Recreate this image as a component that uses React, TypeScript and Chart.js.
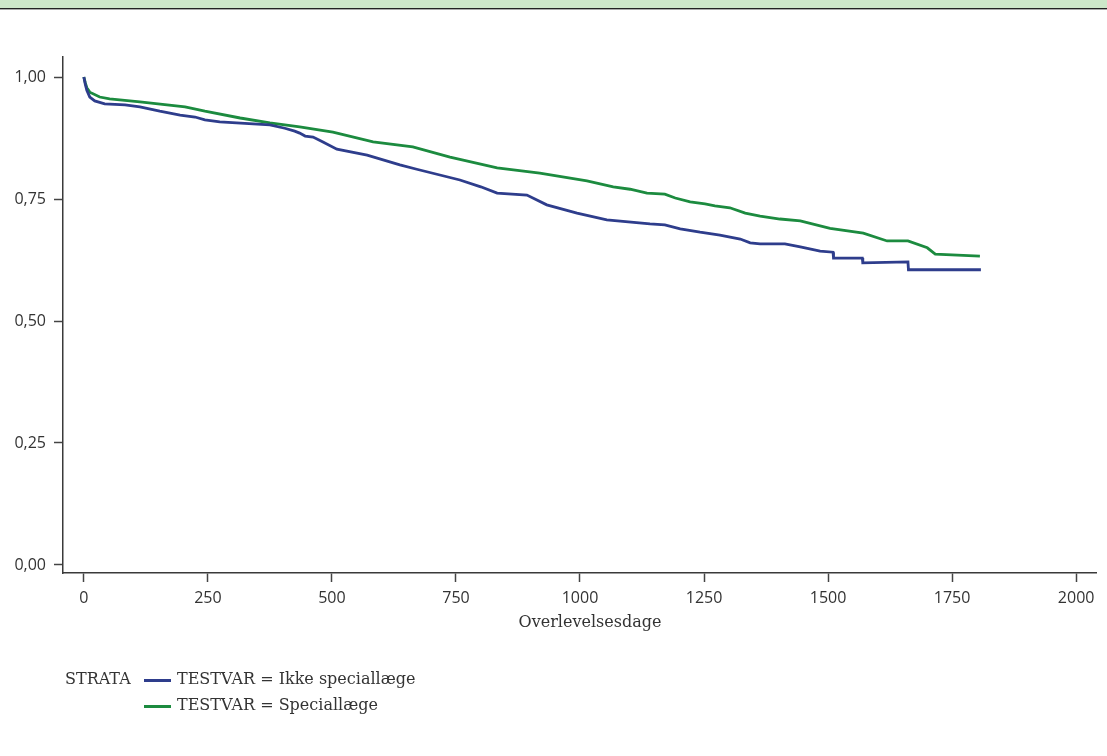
import React, { useEffect, useRef } from "react";
import { Chart, registerables } from "chart.js";

Chart.register(...registerables);

const seriesNames = ["TESTVAR = Ikke speciallæge", "TESTVAR = Speciallæge"];
const seriesColors = ["#2e3d8c", "#1c8b3f"];

const blueDays = [0, 3, 6, 12, 22, 42, 83, 113, 153, 194, 224, 244, 274, 375, 405, 425, 435, 446, 462, 480, 510, 571, 637, 671, 758, 800, 833, 893, 933, 994, 1054, 1141, 1171, 1202, 1242, 1282, 1323, 1343, 1363, 1413, 1444, 1484, 1510, 1511, 1569, 1570, 1661, 1662, 1808];
const blueSurv = [1.0, 0.985, 0.973, 0.959, 0.951, 0.945, 0.943, 0.939, 0.93, 0.922, 0.918, 0.912, 0.908, 0.902, 0.895, 0.889, 0.885, 0.879, 0.877, 0.868, 0.852, 0.84, 0.82, 0.811, 0.789, 0.775, 0.762, 0.758, 0.738, 0.721, 0.707, 0.699, 0.697, 0.689, 0.682, 0.676, 0.668, 0.66, 0.658, 0.658, 0.652, 0.643, 0.641, 0.629, 0.629, 0.619, 0.621, 0.605, 0.605];

const greenDays = [0, 3, 6, 12, 32, 52, 113, 204, 244, 315, 375, 435, 502, 583, 663, 738, 833, 919, 1014, 1067, 1101, 1135, 1171, 1192, 1222, 1252, 1272, 1302, 1333, 1363, 1403, 1444, 1504, 1571, 1619, 1661, 1700, 1716, 1806];
const greenSurv = [1.0, 0.988, 0.978, 0.969, 0.959, 0.955, 0.949, 0.939, 0.93, 0.916, 0.906, 0.898, 0.887, 0.867, 0.857, 0.836, 0.814, 0.803, 0.787, 0.775, 0.77, 0.762, 0.76, 0.752, 0.744, 0.74, 0.736, 0.732, 0.721, 0.715, 0.709, 0.705, 0.69, 0.68, 0.664, 0.664, 0.65, 0.637, 0.633];

const xTicks = [0, 250, 500, 750, 1000, 1250, 1500, 1750, 2000];
const yTicks = [0, 0.25, 0.5, 0.75, 1.0];
const xTitle = "Overlevelsesdage";
const legendTitle = "STRATA";

const serif = "'DejaVu Serif', serif";
const sans = "'Open Sans', sans-serif";

export default function App() {
  const ref = useRef<HTMLCanvasElement>(null);

  useEffect(() => {
    document.body.style.margin = "0";
    const ctx = ref.current!.getContext("2d")!;
    const toPts = (xs: number[], ys: number[]) => xs.map((x, i) => ({ x, y: ys[i] }));
    const chart = new Chart(ctx, {
      type: "line",
      data: {
        datasets: [
          {
            label: seriesNames[0],
            data: toPts(blueDays, blueSurv),
            borderColor: seriesColors[0],
            borderWidth: 2.8,
            pointRadius: 0,
            tension: 0,
            fill: false,
          },
          {
            label: seriesNames[1],
            data: toPts(greenDays, greenSurv),
            borderColor: seriesColors[1],
            borderWidth: 2.8,
            pointRadius: 0,
            tension: 0,
            fill: false,
          },
        ],
      },
      options: {
        animation: false,
        responsive: false,
        layout: { padding: { left: 0, right: 11, top: 57, bottom: 133 } },
        plugins: { legend: { display: false }, tooltip: { enabled: false } },
        scales: {
          x: {
            type: "linear",
            min: -42,
            max: 2040,
            afterBuildTicks: (s: any) => {
              s.ticks = xTicks.map((v) => ({ value: v }));
            },
            afterFit: (s: any) => {
              s.height = 50;
            },
            grid: { display: true, drawOnChartArea: false, drawTicks: true, tickLength: 9, tickColor: "#444", tickWidth: 1.5 },
            border: { display: true, color: "#3a3a3a", width: 1.5 },
            ticks: {
              padding: 7,
              color: "#333",
              font: { family: sans, size: 16, lineHeight: 1.2 },
              callback: (v: any) => String(v),
              maxRotation: 0,
              autoSkip: false,
            },
          },
          y: {
            type: "linear",
            min: -0.0164,
            max: 1.041,
            afterBuildTicks: (s: any) => {
              s.ticks = yTicks.map((v) => ({ value: v }));
            },
            afterFit: (s: any) => {
              s.width = 63;
            },
            grid: { display: true, drawOnChartArea: false, drawTicks: true, tickLength: 9, tickColor: "#444", tickWidth: 1.5 },
            border: { display: true, color: "#3a3a3a", width: 1.5 },
            ticks: {
              padding: 8,
              color: "#333",
              font: { family: sans, size: 16 },
              callback: (v: any) => Number(v).toFixed(2).replace(".", ","),
            },
          },
        },
      },
    });
    return () => chart.destroy();
  }, []);

  const txt: React.CSSProperties = { position: "absolute", fontFamily: serif, fontSize: 16, color: "#333", whiteSpace: "nowrap", lineHeight: "18px" };

  return (
    <div style={{ position: "absolute", left: 0, top: 0, width: 1107, height: 756, background: "#fff" }}>
      <div style={{ position: "absolute", left: 0, top: 0, width: 1107, height: 8, background: "#cde7c9" }} />
      <div style={{ position: "absolute", left: 0, top: 8, width: 1107, height: 1, background: "#222" }} />
      <div style={{ position: "absolute", left: 0, top: 9, width: 1107, height: 1, background: "#aaa" }} />
      <canvas ref={ref} width={1107} height={756} style={{ position: "absolute", left: 0, top: 0 }} />
      <div style={{ ...txt, left: 490, width: 200, textAlign: "center", top: 613 }}>{xTitle}</div>
      <div style={{ ...txt, left: 65, top: 670 }}>{legendTitle}</div>
      <div style={{ position: "absolute", left: 144, top: 679, width: 27, height: 2.5, background: seriesColors[0] }} />
      <div style={{ ...txt, left: 177, top: 670 }}>{seriesNames[0]}</div>
      <div style={{ position: "absolute", left: 144, top: 705, width: 27, height: 2.5, background: seriesColors[1] }} />
      <div style={{ ...txt, left: 177, top: 696 }}>{seriesNames[1]}</div>
    </div>
  );
}
